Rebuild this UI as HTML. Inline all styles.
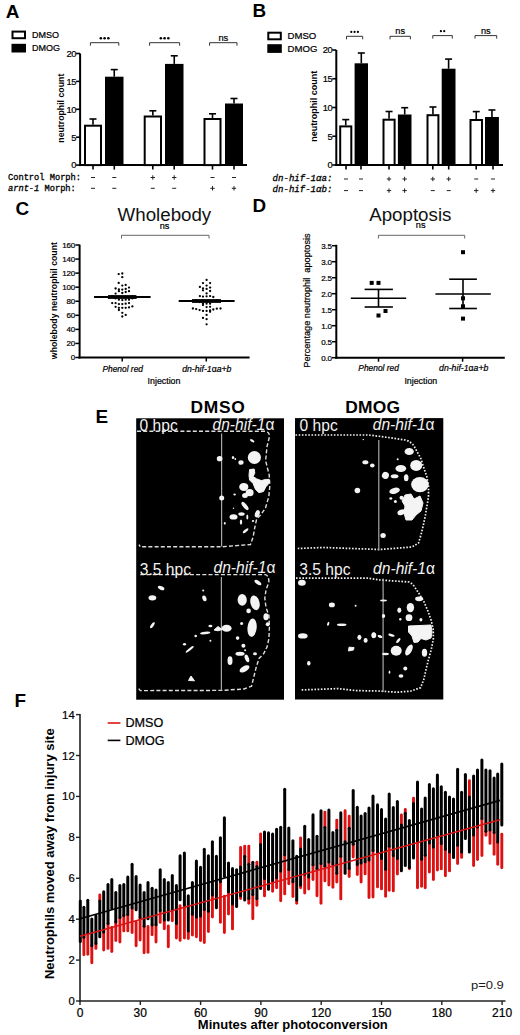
<!DOCTYPE html>
<html><head><meta charset="utf-8"><title>Figure</title>
<style>
html,body{margin:0;padding:0;background:#fff;}
body{width:520px;height:1035px;overflow:hidden;font-family:"Liberation Sans", sans-serif;}
svg{display:block;}
</style></head><body>
<svg width="520" height="1035" viewBox="0 0 520 1035">
<rect x="0" y="0" width="520" height="1035" fill="#fff"/>
<text transform="translate(5.8,17.9) scale(1.08,1)" font-size="17.5" text-anchor="start" font-weight="bold" font-style="normal" fill="#000" font-family='"Liberation Sans", sans-serif' >A</text>
<rect x="12.50" y="31.60" width="12.50" height="6.60" fill="#fff" stroke="#000" stroke-width="2"/>
<rect x="11.50" y="43.80" width="14.50" height="8.70" fill="#000"/>
<text x="32" y="38.0" font-size="9" text-anchor="start" font-weight="normal" font-style="normal" fill="#000" font-family='"Liberation Sans", sans-serif'  stroke="#000" stroke-width="0.22">DMSO</text>
<text x="32" y="51.4" font-size="9" text-anchor="start" font-weight="normal" font-style="normal" fill="#000" font-family='"Liberation Sans", sans-serif'  stroke="#000" stroke-width="0.22">DMOG</text>
<line x1="80.10" y1="53.50" x2="80.10" y2="166.10" stroke="#000" stroke-width="2" />
<line x1="76.10" y1="165.10" x2="80.10" y2="165.10" stroke="#000" stroke-width="1.6" />
<text x="76.19999999999999" y="168.4" font-size="9.3" text-anchor="end" font-weight="normal" font-style="normal" fill="#000" font-family='"Liberation Sans", sans-serif' letter-spacing="-0.3" stroke="#000" stroke-width="0.22">0</text>
<line x1="76.10" y1="137.20" x2="80.10" y2="137.20" stroke="#000" stroke-width="1.6" />
<text x="76.19999999999999" y="140.5" font-size="9.3" text-anchor="end" font-weight="normal" font-style="normal" fill="#000" font-family='"Liberation Sans", sans-serif' letter-spacing="-0.3" stroke="#000" stroke-width="0.22">5</text>
<line x1="76.10" y1="109.30" x2="80.10" y2="109.30" stroke="#000" stroke-width="1.6" />
<text x="76.19999999999999" y="112.6" font-size="9.3" text-anchor="end" font-weight="normal" font-style="normal" fill="#000" font-family='"Liberation Sans", sans-serif' letter-spacing="-0.3" stroke="#000" stroke-width="0.22">10</text>
<line x1="76.10" y1="81.40" x2="80.10" y2="81.40" stroke="#000" stroke-width="1.6" />
<text x="76.19999999999999" y="84.69999999999999" font-size="9.3" text-anchor="end" font-weight="normal" font-style="normal" fill="#000" font-family='"Liberation Sans", sans-serif' letter-spacing="-0.3" stroke="#000" stroke-width="0.22">15</text>
<line x1="76.10" y1="53.50" x2="80.10" y2="53.50" stroke="#000" stroke-width="1.6" />
<text x="76.19999999999999" y="56.8" font-size="9.3" text-anchor="end" font-weight="normal" font-style="normal" fill="#000" font-family='"Liberation Sans", sans-serif' letter-spacing="-0.3" stroke="#000" stroke-width="0.22">20</text>
<line x1="79.10" y1="165.10" x2="247.00" y2="165.10" stroke="#000" stroke-width="2" />
<line x1="93.00" y1="124.70" x2="93.00" y2="119.00" stroke="#000" stroke-width="1.6" />
<line x1="89.50" y1="119.00" x2="96.50" y2="119.00" stroke="#000" stroke-width="1.6" />
<rect x="85.00" y="125.70" width="16.00" height="39.40" fill="#fff" stroke="#000" stroke-width="2"/>
<line x1="114.25" y1="76.70" x2="114.25" y2="69.60" stroke="#000" stroke-width="1.6" />
<line x1="110.75" y1="69.60" x2="117.75" y2="69.60" stroke="#000" stroke-width="1.6" />
<rect x="105.00" y="76.70" width="18.50" height="88.40" fill="#000"/>
<line x1="152.85" y1="115.50" x2="152.85" y2="110.80" stroke="#000" stroke-width="1.6" />
<line x1="149.35" y1="110.80" x2="156.35" y2="110.80" stroke="#000" stroke-width="1.6" />
<rect x="144.70" y="116.50" width="16.30" height="48.60" fill="#fff" stroke="#000" stroke-width="2"/>
<line x1="174.25" y1="63.90" x2="174.25" y2="55.80" stroke="#000" stroke-width="1.6" />
<line x1="170.75" y1="55.80" x2="177.75" y2="55.80" stroke="#000" stroke-width="1.6" />
<rect x="165.00" y="63.90" width="18.50" height="101.20" fill="#000"/>
<line x1="212.50" y1="118.00" x2="212.50" y2="113.80" stroke="#000" stroke-width="1.6" />
<line x1="209.00" y1="113.80" x2="216.00" y2="113.80" stroke="#000" stroke-width="1.6" />
<rect x="204.50" y="119.00" width="16.00" height="46.10" fill="#fff" stroke="#000" stroke-width="2"/>
<line x1="234.00" y1="103.50" x2="234.00" y2="98.50" stroke="#000" stroke-width="1.6" />
<line x1="230.50" y1="98.50" x2="237.50" y2="98.50" stroke="#000" stroke-width="1.6" />
<rect x="225.00" y="103.50" width="18.00" height="61.60" fill="#000"/>
<path d="M90.4,45.7 V42.7 H118.8 V45.7" fill="none" stroke="#333" stroke-width="1"/>
<circle cx="100.85" cy="38.30" r="1.3" fill="#000"/>
<circle cx="104.60" cy="38.30" r="1.3" fill="#000"/>
<circle cx="108.35" cy="38.30" r="1.3" fill="#000"/>
<path d="M149.6,45.7 V42.7 H179.6 V45.7" fill="none" stroke="#333" stroke-width="1"/>
<circle cx="160.85" cy="38.30" r="1.3" fill="#000"/>
<circle cx="164.60" cy="38.30" r="1.3" fill="#000"/>
<circle cx="168.35" cy="38.30" r="1.3" fill="#000"/>
<path d="M209.6,45.7 V42.7 H237.0 V45.7" fill="none" stroke="#333" stroke-width="1"/>
<text x="223.3" y="40.8" font-size="9.3" text-anchor="middle" font-weight="normal" font-style="normal" fill="#000" font-family='"Liberation Sans", sans-serif'  stroke="#000" stroke-width="0.22">ns</text>
<line x1="93.00" y1="165.10" x2="93.00" y2="169.60" stroke="#000" stroke-width="1.6" />
<line x1="114.30" y1="165.10" x2="114.30" y2="169.60" stroke="#000" stroke-width="1.6" />
<line x1="152.80" y1="165.10" x2="152.80" y2="169.60" stroke="#000" stroke-width="1.6" />
<line x1="174.20" y1="165.10" x2="174.20" y2="169.60" stroke="#000" stroke-width="1.6" />
<line x1="212.50" y1="165.10" x2="212.50" y2="169.60" stroke="#000" stroke-width="1.6" />
<line x1="234.00" y1="165.10" x2="234.00" y2="169.60" stroke="#000" stroke-width="1.6" />
<text x="8" y="180" font-size="8.7" font-family='"Liberation Mono", monospace' fill="#000" stroke="#000" stroke-width="0.3">Control Morph:</text>
<line x1="91.00" y1="177.50" x2="95.00" y2="177.50" stroke="#222" stroke-width="1" />
<line x1="112.30" y1="177.50" x2="116.30" y2="177.50" stroke="#222" stroke-width="1" />
<line x1="150.60" y1="177.50" x2="155.00" y2="177.50" stroke="#222" stroke-width="1" />
<line x1="152.80" y1="175.30" x2="152.80" y2="179.70" stroke="#222" stroke-width="1" />
<line x1="172.00" y1="177.50" x2="176.40" y2="177.50" stroke="#222" stroke-width="1" />
<line x1="174.20" y1="175.30" x2="174.20" y2="179.70" stroke="#222" stroke-width="1" />
<line x1="210.50" y1="177.50" x2="214.50" y2="177.50" stroke="#222" stroke-width="1" />
<line x1="232.00" y1="177.50" x2="236.00" y2="177.50" stroke="#222" stroke-width="1" />
<text x="8" y="191" font-size="8.7" font-family='"Liberation Mono", monospace' fill="#000" stroke="#000" stroke-width="0.3"><tspan font-style="italic">arnt-1</tspan> Morph:</text>
<line x1="91.00" y1="188.30" x2="95.00" y2="188.30" stroke="#222" stroke-width="1" />
<line x1="112.30" y1="188.30" x2="116.30" y2="188.30" stroke="#222" stroke-width="1" />
<line x1="150.80" y1="188.30" x2="154.80" y2="188.30" stroke="#222" stroke-width="1" />
<line x1="172.20" y1="188.30" x2="176.20" y2="188.30" stroke="#222" stroke-width="1" />
<line x1="210.30" y1="188.30" x2="214.70" y2="188.30" stroke="#222" stroke-width="1" />
<line x1="212.50" y1="186.10" x2="212.50" y2="190.50" stroke="#222" stroke-width="1" />
<line x1="231.80" y1="188.30" x2="236.20" y2="188.30" stroke="#222" stroke-width="1" />
<line x1="234.00" y1="186.10" x2="234.00" y2="190.50" stroke="#222" stroke-width="1" />
<text transform="translate(64.3,108.2) rotate(-90)" font-size="8.75" text-anchor="middle" font-weight="bold" font-family='"Liberation Sans", sans-serif' fill="#000">neutrophil count</text>
<text transform="translate(252.6,17.2) scale(1.08,1)" font-size="17.5" text-anchor="start" font-weight="bold" font-style="normal" fill="#000" font-family='"Liberation Sans", sans-serif' >B</text>
<rect x="268.30" y="32.70" width="12.50" height="6.60" fill="#fff" stroke="#000" stroke-width="2"/>
<rect x="267.30" y="44.20" width="14.50" height="8.70" fill="#000"/>
<text x="287.5" y="39.1" font-size="9.6" text-anchor="start" font-weight="normal" font-style="normal" fill="#000" font-family='"Liberation Sans", sans-serif'  stroke="#000" stroke-width="0.22">DMSO</text>
<text x="287.5" y="51.800000000000004" font-size="9.6" text-anchor="start" font-weight="normal" font-style="normal" fill="#000" font-family='"Liberation Sans", sans-serif'  stroke="#000" stroke-width="0.22">DMOG</text>
<line x1="336.30" y1="50.00" x2="336.30" y2="166.00" stroke="#000" stroke-width="2" />
<line x1="332.30" y1="165.00" x2="336.30" y2="165.00" stroke="#000" stroke-width="1.6" />
<text x="332.40000000000003" y="168.3" font-size="9.3" text-anchor="end" font-weight="normal" font-style="normal" fill="#000" font-family='"Liberation Sans", sans-serif' letter-spacing="-0.3" stroke="#000" stroke-width="0.22">0</text>
<line x1="332.30" y1="136.25" x2="336.30" y2="136.25" stroke="#000" stroke-width="1.6" />
<text x="332.40000000000003" y="139.55" font-size="9.3" text-anchor="end" font-weight="normal" font-style="normal" fill="#000" font-family='"Liberation Sans", sans-serif' letter-spacing="-0.3" stroke="#000" stroke-width="0.22">5</text>
<line x1="332.30" y1="107.50" x2="336.30" y2="107.50" stroke="#000" stroke-width="1.6" />
<text x="332.40000000000003" y="110.8" font-size="9.3" text-anchor="end" font-weight="normal" font-style="normal" fill="#000" font-family='"Liberation Sans", sans-serif' letter-spacing="-0.3" stroke="#000" stroke-width="0.22">10</text>
<line x1="332.30" y1="78.75" x2="336.30" y2="78.75" stroke="#000" stroke-width="1.6" />
<text x="332.40000000000003" y="82.05" font-size="9.3" text-anchor="end" font-weight="normal" font-style="normal" fill="#000" font-family='"Liberation Sans", sans-serif' letter-spacing="-0.3" stroke="#000" stroke-width="0.22">15</text>
<line x1="332.30" y1="50.00" x2="336.30" y2="50.00" stroke="#000" stroke-width="1.6" />
<text x="332.40000000000003" y="53.3" font-size="9.3" text-anchor="end" font-weight="normal" font-style="normal" fill="#000" font-family='"Liberation Sans", sans-serif' letter-spacing="-0.3" stroke="#000" stroke-width="0.22">20</text>
<line x1="335.30" y1="165.00" x2="503.00" y2="165.00" stroke="#000" stroke-width="2" />
<line x1="345.75" y1="125.40" x2="345.75" y2="119.60" stroke="#000" stroke-width="1.6" />
<line x1="342.25" y1="119.60" x2="349.25" y2="119.60" stroke="#000" stroke-width="1.6" />
<rect x="340.20" y="126.40" width="11.10" height="38.60" fill="#fff" stroke="#000" stroke-width="2"/>
<line x1="361.30" y1="63.30" x2="361.30" y2="53.00" stroke="#000" stroke-width="1.6" />
<line x1="357.80" y1="53.00" x2="364.80" y2="53.00" stroke="#000" stroke-width="1.6" />
<rect x="354.60" y="63.30" width="13.40" height="101.70" fill="#000"/>
<line x1="389.05" y1="118.70" x2="389.05" y2="111.50" stroke="#000" stroke-width="1.6" />
<line x1="385.55" y1="111.50" x2="392.55" y2="111.50" stroke="#000" stroke-width="1.6" />
<rect x="383.50" y="119.70" width="11.10" height="45.30" fill="#fff" stroke="#000" stroke-width="2"/>
<line x1="404.70" y1="114.50" x2="404.70" y2="107.70" stroke="#000" stroke-width="1.6" />
<line x1="401.20" y1="107.70" x2="408.20" y2="107.70" stroke="#000" stroke-width="1.6" />
<rect x="397.90" y="114.50" width="13.60" height="50.50" fill="#000"/>
<line x1="432.95" y1="114.20" x2="432.95" y2="107.00" stroke="#000" stroke-width="1.6" />
<line x1="429.45" y1="107.00" x2="436.45" y2="107.00" stroke="#000" stroke-width="1.6" />
<rect x="427.50" y="115.20" width="10.90" height="49.80" fill="#fff" stroke="#000" stroke-width="2"/>
<line x1="448.60" y1="68.70" x2="448.60" y2="59.10" stroke="#000" stroke-width="1.6" />
<line x1="445.10" y1="59.10" x2="452.10" y2="59.10" stroke="#000" stroke-width="1.6" />
<rect x="441.70" y="68.70" width="13.80" height="96.30" fill="#000"/>
<line x1="476.25" y1="119.00" x2="476.25" y2="111.60" stroke="#000" stroke-width="1.6" />
<line x1="472.75" y1="111.60" x2="479.75" y2="111.60" stroke="#000" stroke-width="1.6" />
<rect x="470.50" y="120.00" width="11.50" height="45.00" fill="#fff" stroke="#000" stroke-width="2"/>
<line x1="491.95" y1="117.00" x2="491.95" y2="110.00" stroke="#000" stroke-width="1.6" />
<line x1="488.45" y1="110.00" x2="495.45" y2="110.00" stroke="#000" stroke-width="1.6" />
<rect x="485.00" y="117.00" width="13.90" height="48.00" fill="#000"/>
<path d="M346.5,39.3 V36.3 H362.7 V39.3" fill="none" stroke="#333" stroke-width="1"/>
<circle cx="351.30" cy="31.90" r="1.1" fill="#000"/>
<circle cx="354.60" cy="31.90" r="1.1" fill="#000"/>
<circle cx="357.90" cy="31.90" r="1.1" fill="#000"/>
<path d="M390.0,39.3 V36.3 H410.4 V39.3" fill="none" stroke="#333" stroke-width="1"/>
<text x="400.2" y="33.6" font-size="9.2" text-anchor="middle" font-weight="normal" font-style="normal" fill="#000" font-family='"Liberation Sans", sans-serif'  stroke="#000" stroke-width="0.22">ns</text>
<path d="M432.8,38.6 V35.6 H452.3 V38.6" fill="none" stroke="#333" stroke-width="1"/>
<circle cx="440.90" cy="31.20" r="1.1" fill="#000"/>
<circle cx="444.20" cy="31.20" r="1.1" fill="#000"/>
<path d="M475.0,38.6 V35.6 H496.7 V38.6" fill="none" stroke="#333" stroke-width="1"/>
<text x="485.85" y="33.6" font-size="9.2" text-anchor="middle" font-weight="normal" font-style="normal" fill="#000" font-family='"Liberation Sans", sans-serif'  stroke="#000" stroke-width="0.22">ns</text>
<line x1="346.00" y1="165.00" x2="346.00" y2="169.50" stroke="#000" stroke-width="1.6" />
<line x1="361.00" y1="165.00" x2="361.00" y2="169.50" stroke="#000" stroke-width="1.6" />
<line x1="389.00" y1="165.00" x2="389.00" y2="169.50" stroke="#000" stroke-width="1.6" />
<line x1="404.60" y1="165.00" x2="404.60" y2="169.50" stroke="#000" stroke-width="1.6" />
<line x1="432.80" y1="165.00" x2="432.80" y2="169.50" stroke="#000" stroke-width="1.6" />
<line x1="448.70" y1="165.00" x2="448.70" y2="169.50" stroke="#000" stroke-width="1.6" />
<line x1="476.20" y1="165.00" x2="476.20" y2="169.50" stroke="#000" stroke-width="1.6" />
<line x1="493.00" y1="165.00" x2="493.00" y2="169.50" stroke="#000" stroke-width="1.6" />
<text x="272.6" y="181.3" font-size="9.05" font-style="italic" font-family='"Liberation Mono", monospace' fill="#000" stroke="#000" stroke-width="0.3">dn-hif-1&#945;a:</text>
<line x1="344.00" y1="179.00" x2="348.00" y2="179.00" stroke="#222" stroke-width="1" />
<line x1="359.00" y1="179.00" x2="363.00" y2="179.00" stroke="#222" stroke-width="1" />
<line x1="386.80" y1="179.00" x2="391.20" y2="179.00" stroke="#222" stroke-width="1" />
<line x1="389.00" y1="176.80" x2="389.00" y2="181.20" stroke="#222" stroke-width="1" />
<line x1="402.40" y1="179.00" x2="406.80" y2="179.00" stroke="#222" stroke-width="1" />
<line x1="404.60" y1="176.80" x2="404.60" y2="181.20" stroke="#222" stroke-width="1" />
<line x1="430.60" y1="179.00" x2="435.00" y2="179.00" stroke="#222" stroke-width="1" />
<line x1="432.80" y1="176.80" x2="432.80" y2="181.20" stroke="#222" stroke-width="1" />
<line x1="446.50" y1="179.00" x2="450.90" y2="179.00" stroke="#222" stroke-width="1" />
<line x1="448.70" y1="176.80" x2="448.70" y2="181.20" stroke="#222" stroke-width="1" />
<line x1="474.20" y1="179.00" x2="478.20" y2="179.00" stroke="#222" stroke-width="1" />
<line x1="491.00" y1="179.00" x2="495.00" y2="179.00" stroke="#222" stroke-width="1" />
<text x="272.6" y="192.4" font-size="9.05" font-style="italic" font-family='"Liberation Mono", monospace' fill="#000" stroke="#000" stroke-width="0.3">dn-hif-1&#945;b:</text>
<line x1="344.00" y1="190.60" x2="348.00" y2="190.60" stroke="#222" stroke-width="1" />
<line x1="359.00" y1="190.60" x2="363.00" y2="190.60" stroke="#222" stroke-width="1" />
<line x1="386.80" y1="190.60" x2="391.20" y2="190.60" stroke="#222" stroke-width="1" />
<line x1="389.00" y1="188.40" x2="389.00" y2="192.80" stroke="#222" stroke-width="1" />
<line x1="402.40" y1="190.60" x2="406.80" y2="190.60" stroke="#222" stroke-width="1" />
<line x1="404.60" y1="188.40" x2="404.60" y2="192.80" stroke="#222" stroke-width="1" />
<line x1="430.80" y1="190.60" x2="434.80" y2="190.60" stroke="#222" stroke-width="1" />
<line x1="446.70" y1="190.60" x2="450.70" y2="190.60" stroke="#222" stroke-width="1" />
<line x1="474.00" y1="190.60" x2="478.40" y2="190.60" stroke="#222" stroke-width="1" />
<line x1="476.20" y1="188.40" x2="476.20" y2="192.80" stroke="#222" stroke-width="1" />
<line x1="490.80" y1="190.60" x2="495.20" y2="190.60" stroke="#222" stroke-width="1" />
<line x1="493.00" y1="188.40" x2="493.00" y2="192.80" stroke="#222" stroke-width="1" />
<text transform="translate(317.2,106.2) rotate(-90)" font-size="9.0" text-anchor="middle" font-weight="bold" font-family='"Liberation Sans", sans-serif' fill="#000">neutrophil count</text>
<text transform="translate(15.6,214.6) scale(1.08,1)" font-size="17.5" text-anchor="start" font-weight="bold" font-style="normal" fill="#000" font-family='"Liberation Sans", sans-serif' >C</text>
<text transform="translate(164.4,221) scale(1.04,1)" font-size="18" text-anchor="middle" font-weight="normal" font-style="normal" fill="#111" font-family='"Liberation Sans", sans-serif' >Wholebody</text>
<text x="164.6" y="229.2" font-size="9.2" text-anchor="middle" font-weight="normal" font-style="normal" fill="#000" font-family='"Liberation Sans", sans-serif'  stroke="#000" stroke-width="0.22">ns</text>
<path d="M121.5,238.5 V235.3 H209 V238.5" fill="none" stroke="#666" stroke-width="1"/>
<line x1="79.60" y1="244.60" x2="79.60" y2="358.50" stroke="#000" stroke-width="2" />
<line x1="75.30" y1="357.50" x2="79.60" y2="357.50" stroke="#000" stroke-width="1.5" />
<text x="75.0" y="360.4" font-size="8.0" text-anchor="end" font-weight="normal" font-style="normal" fill="#000" font-family='"Liberation Sans", sans-serif' letter-spacing="-0.2" stroke="#000" stroke-width="0.22">0</text>
<line x1="75.30" y1="343.44" x2="79.60" y2="343.44" stroke="#000" stroke-width="1.5" />
<text x="75.0" y="346.3375" font-size="8.0" text-anchor="end" font-weight="normal" font-style="normal" fill="#000" font-family='"Liberation Sans", sans-serif' letter-spacing="-0.2" stroke="#000" stroke-width="0.22">20</text>
<line x1="75.30" y1="329.38" x2="79.60" y2="329.38" stroke="#000" stroke-width="1.5" />
<text x="75.0" y="332.275" font-size="8.0" text-anchor="end" font-weight="normal" font-style="normal" fill="#000" font-family='"Liberation Sans", sans-serif' letter-spacing="-0.2" stroke="#000" stroke-width="0.22">40</text>
<line x1="75.30" y1="315.31" x2="79.60" y2="315.31" stroke="#000" stroke-width="1.5" />
<text x="75.0" y="318.2125" font-size="8.0" text-anchor="end" font-weight="normal" font-style="normal" fill="#000" font-family='"Liberation Sans", sans-serif' letter-spacing="-0.2" stroke="#000" stroke-width="0.22">60</text>
<line x1="75.30" y1="301.25" x2="79.60" y2="301.25" stroke="#000" stroke-width="1.5" />
<text x="75.0" y="304.15" font-size="8.0" text-anchor="end" font-weight="normal" font-style="normal" fill="#000" font-family='"Liberation Sans", sans-serif' letter-spacing="-0.2" stroke="#000" stroke-width="0.22">80</text>
<line x1="75.30" y1="287.19" x2="79.60" y2="287.19" stroke="#000" stroke-width="1.5" />
<text x="75.0" y="290.0875" font-size="8.0" text-anchor="end" font-weight="normal" font-style="normal" fill="#000" font-family='"Liberation Sans", sans-serif' letter-spacing="-0.2" stroke="#000" stroke-width="0.22">100</text>
<line x1="75.30" y1="273.12" x2="79.60" y2="273.12" stroke="#000" stroke-width="1.5" />
<text x="75.0" y="276.025" font-size="8.0" text-anchor="end" font-weight="normal" font-style="normal" fill="#000" font-family='"Liberation Sans", sans-serif' letter-spacing="-0.2" stroke="#000" stroke-width="0.22">120</text>
<line x1="75.30" y1="259.06" x2="79.60" y2="259.06" stroke="#000" stroke-width="1.5" />
<text x="75.0" y="261.9625" font-size="8.0" text-anchor="end" font-weight="normal" font-style="normal" fill="#000" font-family='"Liberation Sans", sans-serif' letter-spacing="-0.2" stroke="#000" stroke-width="0.22">140</text>
<line x1="75.30" y1="245.00" x2="79.60" y2="245.00" stroke="#000" stroke-width="1.5" />
<text x="75.0" y="247.9" font-size="8.0" text-anchor="end" font-weight="normal" font-style="normal" fill="#000" font-family='"Liberation Sans", sans-serif' letter-spacing="-0.2" stroke="#000" stroke-width="0.22">160</text>
<line x1="78.60" y1="357.50" x2="249.60" y2="357.50" stroke="#000" stroke-width="2" />
<line x1="122.20" y1="357.50" x2="122.20" y2="361.50" stroke="#000" stroke-width="1.5" />
<line x1="206.30" y1="357.50" x2="206.30" y2="361.50" stroke="#000" stroke-width="1.5" />
<text x="122.7" y="371.5" font-size="8.4" text-anchor="middle" font-weight="normal" font-style="italic" fill="#000" font-family='"Liberation Sans", sans-serif'  stroke="#000" stroke-width="0.22">Phenol red</text>
<text x="206.8" y="371.5" font-size="8.7" text-anchor="middle" font-weight="normal" font-style="italic" fill="#000" font-family='"Liberation Sans", sans-serif'  stroke="#000" stroke-width="0.22">dn-hif-1<tspan font-style="normal">&#945;</tspan>a+b</text>
<text x="164" y="383.8" font-size="8.8" text-anchor="middle" font-weight="normal" font-style="normal" fill="#000" font-family='"Liberation Sans", sans-serif'  stroke="#000" stroke-width="0.22">Injection</text>
<text transform="translate(56.8,300.6) rotate(-90)" font-size="8.75" text-anchor="middle" font-weight="bold" font-family='"Liberation Sans", sans-serif' fill="#000">wholebody neutrophil count</text>
<circle cx="118.7" cy="274.1" r="1.15" fill="#000"/>
<circle cx="122.3" cy="273.5" r="1.15" fill="#000"/>
<circle cx="122.3" cy="277.2" r="1.15" fill="#000"/>
<circle cx="118.7" cy="282.9" r="1.15" fill="#000"/>
<circle cx="122.3" cy="285.6" r="1.15" fill="#000"/>
<circle cx="125.7" cy="284.9" r="1.15" fill="#000"/>
<circle cx="115.6" cy="288.5" r="1.15" fill="#000"/>
<circle cx="118.9" cy="289.3" r="1.15" fill="#000"/>
<circle cx="122.3" cy="289.6" r="1.15" fill="#000"/>
<circle cx="125.7" cy="288.9" r="1.15" fill="#000"/>
<circle cx="129" cy="287.6" r="1.15" fill="#000"/>
<circle cx="118.9" cy="291.2" r="1.15" fill="#000"/>
<circle cx="125.7" cy="292" r="1.15" fill="#000"/>
<circle cx="129" cy="291.2" r="1.15" fill="#000"/>
<circle cx="115.6" cy="293.6" r="1.15" fill="#000"/>
<circle cx="122.3" cy="293" r="1.15" fill="#000"/>
<circle cx="115.6" cy="298.4" r="1.15" fill="#000"/>
<circle cx="118.9" cy="299.7" r="1.15" fill="#000"/>
<circle cx="122.3" cy="300.1" r="1.15" fill="#000"/>
<circle cx="125.7" cy="299.7" r="1.15" fill="#000"/>
<circle cx="129" cy="299.7" r="1.15" fill="#000"/>
<circle cx="132.4" cy="298.4" r="1.15" fill="#000"/>
<circle cx="112.2" cy="303.1" r="1.15" fill="#000"/>
<circle cx="115.6" cy="303.1" r="1.15" fill="#000"/>
<circle cx="118.9" cy="304.1" r="1.15" fill="#000"/>
<circle cx="122.3" cy="304.1" r="1.15" fill="#000"/>
<circle cx="125.7" cy="303.7" r="1.15" fill="#000"/>
<circle cx="129" cy="303.1" r="1.15" fill="#000"/>
<circle cx="115.6" cy="306.8" r="1.15" fill="#000"/>
<circle cx="118.9" cy="307.8" r="1.15" fill="#000"/>
<circle cx="122.3" cy="307.8" r="1.15" fill="#000"/>
<circle cx="125.7" cy="307.8" r="1.15" fill="#000"/>
<circle cx="129" cy="307.4" r="1.15" fill="#000"/>
<circle cx="132.4" cy="306.4" r="1.15" fill="#000"/>
<circle cx="118.9" cy="310" r="1.15" fill="#000"/>
<circle cx="122.3" cy="312.8" r="1.15" fill="#000"/>
<circle cx="125.7" cy="314.9" r="1.15" fill="#000"/>
<circle cx="122.3" cy="316.5" r="1.15" fill="#000"/>
<circle cx="112.2" cy="296.2" r="1.15" fill="#000"/>
<circle cx="132.4" cy="296.2" r="1.15" fill="#000"/>
<circle cx="108.6" cy="297.6" r="1.15" fill="#000"/>
<circle cx="136" cy="297.6" r="1.15" fill="#000"/>
<circle cx="206.6" cy="279.9" r="1.15" fill="#000"/>
<circle cx="203" cy="283.1" r="1.15" fill="#000"/>
<circle cx="210.1" cy="283.1" r="1.15" fill="#000"/>
<circle cx="206.6" cy="285.6" r="1.15" fill="#000"/>
<circle cx="199.9" cy="286.9" r="1.15" fill="#000"/>
<circle cx="203" cy="288.3" r="1.15" fill="#000"/>
<circle cx="210.1" cy="287.6" r="1.15" fill="#000"/>
<circle cx="203" cy="290.3" r="1.15" fill="#000"/>
<circle cx="206.6" cy="288.9" r="1.15" fill="#000"/>
<circle cx="210.1" cy="291" r="1.15" fill="#000"/>
<circle cx="206.6" cy="293.4" r="1.15" fill="#000"/>
<circle cx="199.9" cy="296.1" r="1.15" fill="#000"/>
<circle cx="203" cy="296.6" r="1.15" fill="#000"/>
<circle cx="206.6" cy="296.3" r="1.15" fill="#000"/>
<circle cx="210.1" cy="296.1" r="1.15" fill="#000"/>
<circle cx="213.3" cy="297" r="1.15" fill="#000"/>
<circle cx="199.6" cy="302" r="1.15" fill="#000"/>
<circle cx="203" cy="303.7" r="1.15" fill="#000"/>
<circle cx="206.6" cy="303.7" r="1.15" fill="#000"/>
<circle cx="210.1" cy="303.7" r="1.15" fill="#000"/>
<circle cx="203" cy="305.1" r="1.15" fill="#000"/>
<circle cx="206.6" cy="307.1" r="1.15" fill="#000"/>
<circle cx="210.1" cy="306.8" r="1.15" fill="#000"/>
<circle cx="192.9" cy="308.5" r="1.15" fill="#000"/>
<circle cx="196.2" cy="309.1" r="1.15" fill="#000"/>
<circle cx="199.6" cy="310.1" r="1.15" fill="#000"/>
<circle cx="203" cy="310.9" r="1.15" fill="#000"/>
<circle cx="206.6" cy="310.9" r="1.15" fill="#000"/>
<circle cx="210.1" cy="310.5" r="1.15" fill="#000"/>
<circle cx="213.3" cy="309.5" r="1.15" fill="#000"/>
<circle cx="216.8" cy="308.7" r="1.15" fill="#000"/>
<circle cx="220.5" cy="308.5" r="1.15" fill="#000"/>
<circle cx="210.1" cy="311.8" r="1.15" fill="#000"/>
<circle cx="206.6" cy="314.9" r="1.15" fill="#000"/>
<circle cx="203" cy="317.9" r="1.15" fill="#000"/>
<circle cx="206.6" cy="319.2" r="1.15" fill="#000"/>
<circle cx="206.6" cy="324.3" r="1.15" fill="#000"/>
<circle cx="196.2" cy="300.5" r="1.15" fill="#000"/>
<circle cx="217" cy="300.5" r="1.15" fill="#000"/>
<line x1="94.00" y1="297.00" x2="150.60" y2="297.00" stroke="#000" stroke-width="2" />
<line x1="108.00" y1="295.60" x2="136.40" y2="295.60" stroke="#000" stroke-width="1.0" />
<line x1="108.00" y1="298.40" x2="136.40" y2="298.40" stroke="#000" stroke-width="1.0" />
<line x1="178.70" y1="301.00" x2="234.60" y2="301.00" stroke="#000" stroke-width="2" />
<line x1="192.00" y1="299.60" x2="221.00" y2="299.60" stroke="#000" stroke-width="1.0" />
<line x1="192.00" y1="302.40" x2="221.00" y2="302.40" stroke="#000" stroke-width="1.0" />
<text transform="translate(252.4,212.2) scale(1.08,1)" font-size="17.5" text-anchor="start" font-weight="bold" font-style="normal" fill="#000" font-family='"Liberation Sans", sans-serif' >D</text>
<text transform="translate(410.3,221) scale(1.04,1)" font-size="18" text-anchor="middle" font-weight="normal" font-style="normal" fill="#111" font-family='"Liberation Sans", sans-serif' >Apoptosis</text>
<text x="420.7" y="228.4" font-size="9.2" text-anchor="middle" font-weight="normal" font-style="normal" fill="#000" font-family='"Liberation Sans", sans-serif'  stroke="#000" stroke-width="0.22">ns</text>
<path d="M378.4,238.5 V235.3 H464.7 V238.5" fill="none" stroke="#666" stroke-width="1"/>
<line x1="336.30" y1="244.80" x2="336.30" y2="358.70" stroke="#000" stroke-width="2" />
<line x1="332.00" y1="357.70" x2="336.30" y2="357.70" stroke="#000" stroke-width="1.5" />
<text x="331.7" y="360.59999999999997" font-size="8.0" text-anchor="end" font-weight="normal" font-style="normal" fill="#000" font-family='"Liberation Sans", sans-serif' letter-spacing="-0.2" stroke="#000" stroke-width="0.22">0.0</text>
<line x1="332.00" y1="341.70" x2="336.30" y2="341.70" stroke="#000" stroke-width="1.5" />
<text x="331.7" y="344.59999999999997" font-size="8.0" text-anchor="end" font-weight="normal" font-style="normal" fill="#000" font-family='"Liberation Sans", sans-serif' letter-spacing="-0.2" stroke="#000" stroke-width="0.22">0.5</text>
<line x1="332.00" y1="325.70" x2="336.30" y2="325.70" stroke="#000" stroke-width="1.5" />
<text x="331.7" y="328.59999999999997" font-size="8.0" text-anchor="end" font-weight="normal" font-style="normal" fill="#000" font-family='"Liberation Sans", sans-serif' letter-spacing="-0.2" stroke="#000" stroke-width="0.22">1.0</text>
<line x1="332.00" y1="309.70" x2="336.30" y2="309.70" stroke="#000" stroke-width="1.5" />
<text x="331.7" y="312.59999999999997" font-size="8.0" text-anchor="end" font-weight="normal" font-style="normal" fill="#000" font-family='"Liberation Sans", sans-serif' letter-spacing="-0.2" stroke="#000" stroke-width="0.22">1.5</text>
<line x1="332.00" y1="293.70" x2="336.30" y2="293.70" stroke="#000" stroke-width="1.5" />
<text x="331.7" y="296.59999999999997" font-size="8.0" text-anchor="end" font-weight="normal" font-style="normal" fill="#000" font-family='"Liberation Sans", sans-serif' letter-spacing="-0.2" stroke="#000" stroke-width="0.22">2.0</text>
<line x1="332.00" y1="277.70" x2="336.30" y2="277.70" stroke="#000" stroke-width="1.5" />
<text x="331.7" y="280.59999999999997" font-size="8.0" text-anchor="end" font-weight="normal" font-style="normal" fill="#000" font-family='"Liberation Sans", sans-serif' letter-spacing="-0.2" stroke="#000" stroke-width="0.22">2.5</text>
<line x1="332.00" y1="261.70" x2="336.30" y2="261.70" stroke="#000" stroke-width="1.5" />
<text x="331.7" y="264.59999999999997" font-size="8.0" text-anchor="end" font-weight="normal" font-style="normal" fill="#000" font-family='"Liberation Sans", sans-serif' letter-spacing="-0.2" stroke="#000" stroke-width="0.22">3.0</text>
<line x1="332.00" y1="245.70" x2="336.30" y2="245.70" stroke="#000" stroke-width="1.5" />
<text x="331.7" y="248.6" font-size="8.0" text-anchor="end" font-weight="normal" font-style="normal" fill="#000" font-family='"Liberation Sans", sans-serif' letter-spacing="-0.2" stroke="#000" stroke-width="0.22">3.5</text>
<line x1="335.30" y1="357.70" x2="504.80" y2="357.70" stroke="#000" stroke-width="2" />
<line x1="378.50" y1="357.70" x2="378.50" y2="361.70" stroke="#000" stroke-width="1.5" />
<line x1="462.60" y1="357.70" x2="462.60" y2="361.70" stroke="#000" stroke-width="1.5" />
<text x="378.6" y="370.8" font-size="8.4" text-anchor="middle" font-weight="normal" font-style="italic" fill="#000" font-family='"Liberation Sans", sans-serif'  stroke="#000" stroke-width="0.22">Phenol red</text>
<text x="463.7" y="370.8" font-size="8.7" text-anchor="middle" font-weight="normal" font-style="italic" fill="#000" font-family='"Liberation Sans", sans-serif'  stroke="#000" stroke-width="0.22">dn-hif-1<tspan font-style="normal">&#945;</tspan>a+b</text>
<text x="420.8" y="383.8" font-size="8.8" text-anchor="middle" font-weight="normal" font-style="normal" fill="#000" font-family='"Liberation Sans", sans-serif'  stroke="#000" stroke-width="0.22">Injection</text>
<text transform="translate(309.9,300.5) rotate(-90)" font-size="9.2" text-anchor="middle" font-family='"Liberation Sans", sans-serif' fill="#000" stroke="#000" stroke-width="0.2" xml:space="preserve">Percentage neutrophil  apoptosis</text>
<line x1="350.80" y1="298.30" x2="406.20" y2="298.30" stroke="#000" stroke-width="1.6" />
<line x1="364.60" y1="289.40" x2="392.90" y2="289.40" stroke="#000" stroke-width="1.6" />
<line x1="364.60" y1="307.00" x2="392.90" y2="307.00" stroke="#000" stroke-width="1.6" />
<line x1="378.50" y1="289.40" x2="378.50" y2="307.00" stroke="#000" stroke-width="1.6" />
<rect x="369.70" y="280.90" width="4.00" height="4.00" fill="#000"/>
<rect x="376.50" y="280.90" width="4.00" height="4.00" fill="#000"/>
<rect x="383.50" y="309.00" width="4.00" height="4.00" fill="#000"/>
<rect x="376.50" y="313.50" width="4.00" height="4.00" fill="#000"/>
<line x1="435.40" y1="294.00" x2="490.80" y2="294.00" stroke="#000" stroke-width="1.6" />
<line x1="449.20" y1="279.20" x2="476.90" y2="279.20" stroke="#000" stroke-width="1.6" />
<line x1="449.20" y1="308.50" x2="476.90" y2="308.50" stroke="#000" stroke-width="1.6" />
<line x1="463.00" y1="279.20" x2="463.00" y2="308.50" stroke="#000" stroke-width="1.6" />
<rect x="461.00" y="250.20" width="4.00" height="4.00" fill="#000"/>
<rect x="461.00" y="296.30" width="4.00" height="4.00" fill="#000"/>
<rect x="461.00" y="304.30" width="4.00" height="4.00" fill="#000"/>
<rect x="461.00" y="316.60" width="4.00" height="4.00" fill="#000"/>
<text transform="translate(95.6,423.2) scale(1.08,1)" font-size="17.5" text-anchor="start" font-weight="bold" font-style="normal" fill="#000" font-family='"Liberation Sans", sans-serif' >E</text>
<text x="218.1" y="413.0" font-size="17.4" text-anchor="middle" font-weight="bold" font-style="normal" fill="#000" font-family='"Liberation Sans", sans-serif' letter-spacing="0.7">DMSO</text>
<text x="372.8" y="412.8" font-size="17.4" text-anchor="middle" font-weight="bold" font-style="normal" fill="#000" font-family='"Liberation Sans", sans-serif' letter-spacing="0.2">DMOG</text>
<rect x="136.20" y="418.30" width="147.80" height="281.40" fill="#000"/>
<rect x="295.00" y="418.10" width="148.30" height="281.40" fill="#000"/>
<path d="M137,431.2 H265.5 Q269.8,432 269.4,437 L267,446.5 L265.6,460.7 L269.2,475 L269.8,486.3 L268.8,496.7 L265.4,508.3 L260.6,515 L256.7,518.8 L254.8,527.5 L253.2,536.5 L250.5,544.5 L221.4,546.8 L140.3,546.8 L139,544.6" fill="none" stroke="#ddd" stroke-width="1.4" stroke-dasharray="4 2.2"/>
<path d="M295.5,435 H369 L389,437.6 L405.4,440 Q411.5,442 414,446 L420.8,458.5 L423.8,467.7 L426.9,476.9 L428.5,486.2 L428.5,496.9 L426.9,506.2 L425.4,515.4 L423.1,526.2 L420.8,535.4 L418.5,543 L412,547 L380.4,549.5 L323.5,547.5 L297.8,548.5" fill="none" stroke="#f0f0f0" stroke-width="1.7" stroke-dasharray="1.6 1.6" stroke-linecap="butt"/>
<path d="M140.3,574.6 H265.5 Q268.9,575.5 268.9,582 L266,590 L264.8,598.2 L266,607.4 L268.9,615.5 L269.4,627.1 L268.9,638.7 L267.1,646.8 L263.6,653.8 L259,658.4 L256.1,667.7 L253.2,679.3 L251.5,686.2 L244,689 L221.4,690.4 L140.3,690.6 L138.6,688.5" fill="none" stroke="#ddd" stroke-width="1.4" stroke-dasharray="4 2.2"/>
<path d="M296,578.1 H367.7 L378,579.8 L409,582 Q412.5,583.5 414.4,586.7 L418.5,592.8 L423.8,601.5 L427.9,611 L431.2,620.4 L433.3,629.8 L433.3,639.2 L431.2,650 L428.5,659.4 L426.5,667.5 L423.8,679.6 L420.5,687.7 L410.4,691.2 L396.9,692.2 L378,691 L355.6,690.6 L338.3,688.6 L300.2,690" fill="none" stroke="#f0f0f0" stroke-width="1.7" stroke-dasharray="1.6 1.6" stroke-linecap="butt"/>
<line x1="221.60" y1="433.60" x2="221.60" y2="546.50" stroke="#a8a8a8" stroke-width="1.2" />
<line x1="378.80" y1="440.00" x2="378.80" y2="550.50" stroke="#a8a8a8" stroke-width="1.2" />
<line x1="221.40" y1="577.00" x2="221.40" y2="690.50" stroke="#a8a8a8" stroke-width="1.2" />
<line x1="383.10" y1="578.50" x2="383.10" y2="692.00" stroke="#a8a8a8" stroke-width="1.2" />
<ellipse cx="219.6" cy="458.7" rx="2.8" ry="2.6" fill="#f4f4f4"/>
<ellipse cx="221.7" cy="497.9" rx="2.5" ry="2.5" fill="#f4f4f4"/>
<ellipse cx="252.2" cy="440.8" rx="2.5" ry="1.2" transform="rotate(30 252.2 440.8)" fill="#f4f4f4"/>
<ellipse cx="254.4" cy="457.5" rx="6.6" ry="6.4" fill="#f4f4f4"/>
<ellipse cx="233.0" cy="457.5" rx="1.2" ry="1.5" fill="#f4f4f4"/>
<ellipse cx="235.3" cy="459.0" rx="0.9" ry="1.0" fill="#f4f4f4"/>
<ellipse cx="241.0" cy="462.5" rx="2.6" ry="2.3" fill="#f4f4f4"/>
<polygon points="249.6,469.6 254.2,469 254.8,473.1 253.1,476.5 256.5,478.8 261.2,480.6 265.8,479.4 269.2,479.4 269.8,482.3 265.8,486.9 263.5,491.5 258.8,492.7 255.4,489.2 253.1,483.5 249.6,480 249,475.4" fill="#f4f4f4" stroke="#f4f4f4" stroke-width="1" stroke-linejoin="round"/>
<ellipse cx="243.8" cy="486.9" rx="4.6" ry="4.0" fill="#f4f4f4"/>
<ellipse cx="249.6" cy="492.7" rx="4.0" ry="3.6" fill="#f4f4f4"/>
<ellipse cx="245.0" cy="495.5" rx="2.9" ry="2.5" fill="#f4f4f4"/>
<ellipse cx="234.6" cy="494.4" rx="1.3" ry="1.0" fill="#f4f4f4"/>
<ellipse cx="245.0" cy="506.0" rx="5.0" ry="2.0" transform="rotate(50 245.0 506.0)" fill="#f4f4f4"/>
<ellipse cx="233.5" cy="516.9" rx="4.0" ry="2.6" fill="#f4f4f4"/>
<ellipse cx="241.5" cy="514.0" rx="3.2" ry="1.8" fill="#f4f4f4"/>
<ellipse cx="247.3" cy="516.9" rx="1.0" ry="2.5" fill="#f4f4f4"/>
<ellipse cx="257.3" cy="513.8" rx="2.3" ry="3.8" transform="rotate(20 257.3 513.8)" fill="#f4f4f4"/>
<ellipse cx="241.0" cy="522.1" rx="1.2" ry="2.6" fill="#f4f4f4"/>
<ellipse cx="245.6" cy="530.8" rx="3.5" ry="1.3" transform="rotate(-40 245.6 530.8)" fill="#f4f4f4"/>
<ellipse cx="224.8" cy="523.3" rx="0.9" ry="1.4" fill="#f4f4f4"/>
<ellipse cx="233.5" cy="508.3" rx="0.7" ry="0.7" fill="#f4f4f4"/>
<ellipse cx="253.0" cy="521.0" rx="1.2" ry="1.0" fill="#f4f4f4"/>
<ellipse cx="161.1" cy="588.0" rx="3.5" ry="1.8" transform="rotate(25 161.1 588.0)" fill="#f4f4f4"/>
<ellipse cx="152.4" cy="597.8" rx="3.9" ry="2.6" fill="#f4f4f4"/>
<ellipse cx="203.2" cy="590.6" rx="1.0" ry="1.0" fill="#f4f4f4"/>
<ellipse cx="204.4" cy="598.4" rx="2.0" ry="3.0" transform="rotate(-20 204.4 598.4)" fill="#f4f4f4"/>
<ellipse cx="152.4" cy="625.2" rx="3.5" ry="1.4" transform="rotate(-55 152.4 625.2)" fill="#f4f4f4"/>
<ellipse cx="205.2" cy="633.0" rx="5.2" ry="1.3" transform="rotate(-5 205.2 633.0)" fill="#f4f4f4"/>
<ellipse cx="210.4" cy="626.0" rx="2.0" ry="1.3" fill="#f4f4f4"/>
<polygon points="214,630 218,626.5 222,629.5 218,630.8" fill="#f4f4f4" stroke="#f4f4f4" stroke-width="1" stroke-linejoin="round"/>
<ellipse cx="195.7" cy="636.0" rx="1.3" ry="1.3" fill="#f4f4f4"/>
<ellipse cx="210.4" cy="640.8" rx="1.0" ry="1.0" fill="#f4f4f4"/>
<ellipse cx="184.5" cy="644.2" rx="1.6" ry="1.3" fill="#f4f4f4"/>
<ellipse cx="189.7" cy="649.4" rx="5.0" ry="1.2" transform="rotate(-38 189.7 649.4)" fill="#f4f4f4"/>
<polygon points="188.5,680.5 191,676 194.5,680.8" fill="#f4f4f4" stroke="#f4f4f4" stroke-width="1" stroke-linejoin="round"/>
<ellipse cx="257.9" cy="582.5" rx="4.0" ry="1.8" transform="rotate(35 257.9 582.5)" fill="#f4f4f4"/>
<ellipse cx="242.2" cy="599.9" rx="4.6" ry="5.8" fill="#f4f4f4"/>
<ellipse cx="255.0" cy="602.8" rx="4.5" ry="7.5" transform="rotate(-15 255.0 602.8)" fill="#f4f4f4"/>
<ellipse cx="248.6" cy="610.9" rx="2.3" ry="2.3" fill="#f4f4f4"/>
<ellipse cx="266.0" cy="616.7" rx="2.6" ry="3.5" fill="#f4f4f4"/>
<ellipse cx="267.7" cy="624.2" rx="2.0" ry="2.0" fill="#f4f4f4"/>
<ellipse cx="252.1" cy="627.7" rx="4.6" ry="9.2" transform="rotate(5 252.1 627.7)" fill="#f4f4f4"/>
<ellipse cx="241.6" cy="623.6" rx="1.5" ry="1.5" fill="#f4f4f4"/>
<ellipse cx="226.6" cy="628.3" rx="5.0" ry="3.5" fill="#f4f4f4"/>
<ellipse cx="237.6" cy="638.1" rx="1.8" ry="1.8" fill="#f4f4f4"/>
<ellipse cx="243.4" cy="645.7" rx="2.0" ry="2.0" fill="#f4f4f4"/>
<ellipse cx="240.0" cy="653.8" rx="4.6" ry="2.0" fill="#f4f4f4"/>
<ellipse cx="246.9" cy="658.4" rx="2.0" ry="4.0" transform="rotate(-20 246.9 658.4)" fill="#f4f4f4"/>
<ellipse cx="255.0" cy="653.8" rx="2.0" ry="1.5" fill="#f4f4f4"/>
<ellipse cx="230.0" cy="660.7" rx="2.5" ry="4.4" fill="#f4f4f4"/>
<ellipse cx="244.5" cy="668.8" rx="5.5" ry="2.8" transform="rotate(-30 244.5 668.8)" fill="#f4f4f4"/>
<ellipse cx="245.1" cy="650.3" rx="1.0" ry="1.0" fill="#f4f4f4"/>
<ellipse cx="409.2" cy="451.5" rx="4.6" ry="3.6" fill="#f4f4f4"/>
<ellipse cx="365.4" cy="462.3" rx="3.0" ry="2.0" fill="#f4f4f4"/>
<ellipse cx="372.3" cy="465.4" rx="2.3" ry="2.0" fill="#f4f4f4"/>
<ellipse cx="397.7" cy="459.2" rx="1.0" ry="1.0" fill="#f4f4f4"/>
<ellipse cx="400.8" cy="468.5" rx="5.4" ry="3.5" fill="#f4f4f4"/>
<ellipse cx="416.2" cy="465.4" rx="6.0" ry="5.5" fill="#f4f4f4"/>
<ellipse cx="385.4" cy="475.4" rx="3.5" ry="3.5" transform="rotate(30 385.4 475.4)" fill="#f4f4f4"/>
<ellipse cx="394.6" cy="476.2" rx="3.8" ry="2.0" fill="#f4f4f4"/>
<ellipse cx="406.2" cy="477.7" rx="2.3" ry="3.5" fill="#f4f4f4"/>
<ellipse cx="419.9" cy="484.6" rx="8.8" ry="7.7" fill="#f4f4f4"/>
<ellipse cx="394.6" cy="490.8" rx="5.4" ry="3.0" transform="rotate(-15 394.6 490.8)" fill="#f4f4f4"/>
<ellipse cx="357.4" cy="490.5" rx="2.8" ry="2.8" fill="#f4f4f4"/>
<ellipse cx="401.5" cy="497.7" rx="2.0" ry="2.0" fill="#f4f4f4"/>
<ellipse cx="390.8" cy="498.5" rx="1.5" ry="1.2" fill="#f4f4f4"/>
<ellipse cx="395.4" cy="501.5" rx="1.5" ry="1.5" fill="#f4f4f4"/>
<polygon points="405,495 411,494 414,499 420,496 423,503 421,511 416,515 412,520 406,520 404,513 405,506 402,501" fill="#f4f4f4" stroke="#f4f4f4" stroke-width="1" stroke-linejoin="round"/>
<ellipse cx="401.5" cy="512.3" rx="4.2" ry="2.7" transform="rotate(-20 401.5 512.3)" fill="#f4f4f4"/>
<ellipse cx="383.1" cy="535.4" rx="2.7" ry="2.5" fill="#f4f4f4"/>
<ellipse cx="363.3" cy="439.6" rx="0.8" ry="0.6" fill="#f4f4f4"/>
<ellipse cx="301.9" cy="582.8" rx="3.9" ry="3.0" fill="#f4f4f4"/>
<ellipse cx="331.9" cy="604.9" rx="3.0" ry="2.4" fill="#f4f4f4"/>
<ellipse cx="355.6" cy="605.8" rx="1.0" ry="1.0" fill="#f4f4f4"/>
<ellipse cx="328.2" cy="623.8" rx="1.0" ry="2.0" transform="rotate(20 328.2 623.8)" fill="#f4f4f4"/>
<ellipse cx="341.7" cy="624.7" rx="4.8" ry="1.3" fill="#f4f4f4"/>
<ellipse cx="302.8" cy="635.9" rx="4.8" ry="2.6" fill="#f4f4f4"/>
<ellipse cx="359.4" cy="637.3" rx="2.0" ry="2.6" fill="#f4f4f4"/>
<ellipse cx="365.6" cy="640.4" rx="2.0" ry="2.4" fill="#f4f4f4"/>
<ellipse cx="373.7" cy="635.2" rx="2.0" ry="3.0" fill="#f4f4f4"/>
<ellipse cx="379.8" cy="636.4" rx="2.0" ry="1.0" transform="rotate(30 379.8 636.4)" fill="#f4f4f4"/>
<polygon points="348.5,651 349,647.2 354,647.5 353.5,650" fill="#f4f4f4" stroke="#f4f4f4" stroke-width="1" stroke-linejoin="round"/>
<ellipse cx="308.8" cy="663.3" rx="1.7" ry="2.2" fill="#f4f4f4"/>
<ellipse cx="419.1" cy="598.8" rx="4.0" ry="2.4" fill="#f4f4f4"/>
<ellipse cx="410.4" cy="607.6" rx="3.7" ry="4.7" fill="#f4f4f4"/>
<ellipse cx="399.3" cy="610.3" rx="2.0" ry="2.7" fill="#f4f4f4"/>
<ellipse cx="409.0" cy="617.7" rx="3.4" ry="3.4" fill="#f4f4f4"/>
<ellipse cx="420.9" cy="619.7" rx="1.5" ry="1.8" fill="#f4f4f4"/>
<ellipse cx="400.3" cy="619.3" rx="1.2" ry="1.2" fill="#f4f4f4"/>
<ellipse cx="383.5" cy="600.5" rx="3.4" ry="0.9" fill="#f4f4f4"/>
<ellipse cx="383.5" cy="616.1" rx="1.7" ry="2.0" fill="#f4f4f4"/>
<polygon points="408.5,626 420,625.5 431,625 432,632 431,638 426,640 421,638.5 418,642 414,642.5 412,636 408.5,632" fill="#f4f4f4" stroke="#f4f4f4" stroke-width="1" stroke-linejoin="round"/>
<ellipse cx="373.8" cy="635.2" rx="2.4" ry="2.7" fill="#f4f4f4"/>
<ellipse cx="380.0" cy="636.5" rx="2.5" ry="1.2" transform="rotate(20 380.0 636.5)" fill="#f4f4f4"/>
<ellipse cx="391.5" cy="635.2" rx="3.3" ry="1.3" transform="rotate(15 391.5 635.2)" fill="#f4f4f4"/>
<ellipse cx="398.3" cy="640.6" rx="3.0" ry="1.3" transform="rotate(-50 398.3 640.6)" fill="#f4f4f4"/>
<ellipse cx="396.2" cy="650.7" rx="5.5" ry="5.0" fill="#f4f4f4"/>
<ellipse cx="409.0" cy="650.0" rx="2.8" ry="6.0" transform="rotate(30 409.0 650.0)" fill="#f4f4f4"/>
<ellipse cx="424.5" cy="652.7" rx="2.7" ry="4.0" fill="#f4f4f4"/>
<ellipse cx="385.5" cy="654.0" rx="3.4" ry="1.2" fill="#f4f4f4"/>
<ellipse cx="405.3" cy="668.4" rx="2.0" ry="2.0" fill="#f4f4f4"/>
<ellipse cx="401.0" cy="676.0" rx="2.4" ry="1.7" fill="#f4f4f4"/>
<ellipse cx="389.5" cy="672.2" rx="0.8" ry="1.6" fill="#f4f4f4"/>
<text x="139.6" y="431.4" font-size="15.6" text-anchor="start" font-weight="normal" font-style="normal" fill="#f2f2f2" font-family='"Liberation Sans", sans-serif' >0 hpc</text>
<text x="274.4" y="430.4" font-size="15.6" text-anchor="end" font-weight="normal" font-style="italic" fill="#f2f2f2" font-family='"Liberation Sans", sans-serif' >dn-hif-1<tspan font-style="normal">&#945;</tspan></text>
<text x="299.6" y="430.6" font-size="15.6" text-anchor="start" font-weight="normal" font-style="normal" fill="#f2f2f2" font-family='"Liberation Sans", sans-serif' >0 hpc</text>
<text x="434.6" y="430.2" font-size="15.6" text-anchor="end" font-weight="normal" font-style="italic" fill="#f2f2f2" font-family='"Liberation Sans", sans-serif' >dn-hif-1<tspan font-style="normal">&#945;</tspan></text>
<text x="139.8" y="574.7" font-size="15.6" text-anchor="start" font-weight="normal" font-style="normal" fill="#f2f2f2" font-family='"Liberation Sans", sans-serif' >3.5 hpc</text>
<text x="275.4" y="573.2" font-size="15.6" text-anchor="end" font-weight="normal" font-style="italic" fill="#f2f2f2" font-family='"Liberation Sans", sans-serif' >dn-hif-1<tspan font-style="normal">&#945;</tspan></text>
<text x="299.3" y="574.6" font-size="15.6" text-anchor="start" font-weight="normal" font-style="normal" fill="#f2f2f2" font-family='"Liberation Sans", sans-serif' >3.5 hpc</text>
<text x="435.0" y="574.2" font-size="15.6" text-anchor="end" font-weight="normal" font-style="italic" fill="#f2f2f2" font-family='"Liberation Sans", sans-serif' >dn-hif-1<tspan font-style="normal">&#945;</tspan></text>
<text transform="translate(14.6,706.6) scale(1.08,1)" font-size="17.5" text-anchor="start" font-weight="bold" font-style="normal" fill="#000" font-family='"Liberation Sans", sans-serif' >F</text>
<line x1="80.00" y1="714.00" x2="80.00" y2="1002.00" stroke="#222" stroke-width="1.6" />
<line x1="76.00" y1="1001.00" x2="80.00" y2="1001.00" stroke="#222" stroke-width="1.4" />
<text x="74.7" y="1005.0" font-size="11.3" text-anchor="end" font-weight="normal" font-style="normal" fill="#000" font-family='"Liberation Sans", sans-serif'  stroke="#000" stroke-width="0.22">0</text>
<line x1="76.00" y1="960.09" x2="80.00" y2="960.09" stroke="#222" stroke-width="1.4" />
<text x="74.7" y="964.0857142857143" font-size="11.3" text-anchor="end" font-weight="normal" font-style="normal" fill="#000" font-family='"Liberation Sans", sans-serif'  stroke="#000" stroke-width="0.22">2</text>
<line x1="76.00" y1="919.17" x2="80.00" y2="919.17" stroke="#222" stroke-width="1.4" />
<text x="74.7" y="923.1714285714286" font-size="11.3" text-anchor="end" font-weight="normal" font-style="normal" fill="#000" font-family='"Liberation Sans", sans-serif'  stroke="#000" stroke-width="0.22">4</text>
<line x1="76.00" y1="878.26" x2="80.00" y2="878.26" stroke="#222" stroke-width="1.4" />
<text x="74.7" y="882.2571428571429" font-size="11.3" text-anchor="end" font-weight="normal" font-style="normal" fill="#000" font-family='"Liberation Sans", sans-serif'  stroke="#000" stroke-width="0.22">6</text>
<line x1="76.00" y1="837.34" x2="80.00" y2="837.34" stroke="#222" stroke-width="1.4" />
<text x="74.7" y="841.3428571428572" font-size="11.3" text-anchor="end" font-weight="normal" font-style="normal" fill="#000" font-family='"Liberation Sans", sans-serif'  stroke="#000" stroke-width="0.22">8</text>
<line x1="76.00" y1="796.43" x2="80.00" y2="796.43" stroke="#222" stroke-width="1.4" />
<text x="74.7" y="800.4285714285714" font-size="11.3" text-anchor="end" font-weight="normal" font-style="normal" fill="#000" font-family='"Liberation Sans", sans-serif'  stroke="#000" stroke-width="0.22">10</text>
<line x1="76.00" y1="755.51" x2="80.00" y2="755.51" stroke="#222" stroke-width="1.4" />
<text x="74.7" y="759.5142857142857" font-size="11.3" text-anchor="end" font-weight="normal" font-style="normal" fill="#000" font-family='"Liberation Sans", sans-serif'  stroke="#000" stroke-width="0.22">12</text>
<line x1="76.00" y1="714.60" x2="80.00" y2="714.60" stroke="#222" stroke-width="1.4" />
<text x="74.7" y="718.6" font-size="11.3" text-anchor="end" font-weight="normal" font-style="normal" fill="#000" font-family='"Liberation Sans", sans-serif'  stroke="#000" stroke-width="0.22">14</text>
<line x1="79.00" y1="1001.00" x2="505.50" y2="1001.00" stroke="#222" stroke-width="1.6" />
<line x1="80.00" y1="1001.00" x2="80.00" y2="1005.00" stroke="#222" stroke-width="1.4" />
<text x="80.0" y="1016.5" font-size="12.0" text-anchor="middle" font-weight="normal" font-style="normal" fill="#000" font-family='"Liberation Sans", sans-serif'  stroke="#000" stroke-width="0.22">0</text>
<line x1="140.30" y1="1001.00" x2="140.30" y2="1005.00" stroke="#222" stroke-width="1.4" />
<text x="140.3" y="1016.5" font-size="12.0" text-anchor="middle" font-weight="normal" font-style="normal" fill="#000" font-family='"Liberation Sans", sans-serif'  stroke="#000" stroke-width="0.22">30</text>
<line x1="200.60" y1="1001.00" x2="200.60" y2="1005.00" stroke="#222" stroke-width="1.4" />
<text x="200.6" y="1016.5" font-size="12.0" text-anchor="middle" font-weight="normal" font-style="normal" fill="#000" font-family='"Liberation Sans", sans-serif'  stroke="#000" stroke-width="0.22">60</text>
<line x1="260.90" y1="1001.00" x2="260.90" y2="1005.00" stroke="#222" stroke-width="1.4" />
<text x="260.9" y="1016.5" font-size="12.0" text-anchor="middle" font-weight="normal" font-style="normal" fill="#000" font-family='"Liberation Sans", sans-serif'  stroke="#000" stroke-width="0.22">90</text>
<line x1="321.20" y1="1001.00" x2="321.20" y2="1005.00" stroke="#222" stroke-width="1.4" />
<text x="321.2" y="1016.5" font-size="12.0" text-anchor="middle" font-weight="normal" font-style="normal" fill="#000" font-family='"Liberation Sans", sans-serif'  stroke="#000" stroke-width="0.22">120</text>
<line x1="381.50" y1="1001.00" x2="381.50" y2="1005.00" stroke="#222" stroke-width="1.4" />
<text x="381.49999999999994" y="1016.5" font-size="12.0" text-anchor="middle" font-weight="normal" font-style="normal" fill="#000" font-family='"Liberation Sans", sans-serif'  stroke="#000" stroke-width="0.22">150</text>
<line x1="441.80" y1="1001.00" x2="441.80" y2="1005.00" stroke="#222" stroke-width="1.4" />
<text x="441.79999999999995" y="1016.5" font-size="12.0" text-anchor="middle" font-weight="normal" font-style="normal" fill="#000" font-family='"Liberation Sans", sans-serif'  stroke="#000" stroke-width="0.22">180</text>
<line x1="502.10" y1="1001.00" x2="502.10" y2="1005.00" stroke="#222" stroke-width="1.4" />
<text x="502.09999999999997" y="1016.5" font-size="12.0" text-anchor="middle" font-weight="normal" font-style="normal" fill="#000" font-family='"Liberation Sans", sans-serif'  stroke="#000" stroke-width="0.22">210</text>
<text x="292.8" y="1029.3" font-size="13.0" text-anchor="middle" font-weight="bold" font-style="normal" fill="#000" font-family='"Liberation Sans", sans-serif' >Minutes after photoconversion</text>
<text transform="translate(54.4,853.7) rotate(-90)" font-size="13.0" text-anchor="middle" font-weight="bold" font-family='"Liberation Sans", sans-serif' fill="#000">Neutrophils moved away from injury site</text>
<text transform="translate(503.8,989.2) scale(1.12,1)" font-size="11.6" text-anchor="end" font-weight="normal" font-style="normal" fill="#1a1a1a" font-family='"Liberation Sans", sans-serif' >p=0.9</text>
<line x1="107.70" y1="723.00" x2="120.40" y2="723.00" stroke="#dc1212" stroke-width="1.6" />
<line x1="107.70" y1="740.40" x2="120.40" y2="740.40" stroke="#000" stroke-width="1.6" />
<text x="125.4" y="727.4" font-size="12.6" text-anchor="start" font-weight="normal" font-style="normal" fill="#000" font-family='"Liberation Sans", sans-serif'  stroke="#000" stroke-width="0.22">DMSO</text>
<text x="125.4" y="744.7" font-size="12.6" text-anchor="start" font-weight="normal" font-style="normal" fill="#000" font-family='"Liberation Sans", sans-serif'  stroke="#000" stroke-width="0.22">DMOG</text>
<line x1="83.9" y1="937.2" x2="83.9" y2="954.8" stroke="#dc1212" stroke-width="2.9" stroke-linecap="round"/>
<line x1="87.8" y1="933.0" x2="87.8" y2="954.2" stroke="#dc1212" stroke-width="2.9" stroke-linecap="round"/>
<line x1="91.8" y1="945.7" x2="91.8" y2="962.8" stroke="#dc1212" stroke-width="2.9" stroke-linecap="round"/>
<line x1="95.9" y1="943.5" x2="95.9" y2="948.4" stroke="#dc1212" stroke-width="2.9" stroke-linecap="round"/>
<line x1="99.8" y1="895.0" x2="99.8" y2="900.9" stroke="#dc1212" stroke-width="2.9" stroke-linecap="round"/>
<line x1="103.7" y1="931.9" x2="103.7" y2="950.0" stroke="#dc1212" stroke-width="2.9" stroke-linecap="round"/>
<line x1="108" y1="923.4" x2="108" y2="948.4" stroke="#dc1212" stroke-width="2.9" stroke-linecap="round"/>
<line x1="111.8" y1="927.5" x2="111.8" y2="951.5" stroke="#dc1212" stroke-width="2.9" stroke-linecap="round"/>
<line x1="115.8" y1="921.9" x2="115.8" y2="940.5" stroke="#dc1212" stroke-width="2.9" stroke-linecap="round"/>
<line x1="119.9" y1="917.5" x2="119.9" y2="942.1" stroke="#dc1212" stroke-width="2.9" stroke-linecap="round"/>
<line x1="123.8" y1="915.5" x2="123.8" y2="930.9" stroke="#dc1212" stroke-width="2.9" stroke-linecap="round"/>
<line x1="127.8" y1="914.5" x2="127.8" y2="930.9" stroke="#dc1212" stroke-width="2.9" stroke-linecap="round"/>
<line x1="132.1" y1="908.1" x2="132.1" y2="932.5" stroke="#dc1212" stroke-width="2.9" stroke-linecap="round"/>
<line x1="136.1" y1="922.2" x2="136.1" y2="945.8" stroke="#dc1212" stroke-width="2.9" stroke-linecap="round"/>
<line x1="140.1" y1="917.5" x2="140.1" y2="940.0" stroke="#dc1212" stroke-width="2.9" stroke-linecap="round"/>
<line x1="144.1" y1="926.2" x2="144.1" y2="952.8" stroke="#dc1212" stroke-width="2.9" stroke-linecap="round"/>
<line x1="148" y1="926.5" x2="148" y2="952.2" stroke="#dc1212" stroke-width="2.9" stroke-linecap="round"/>
<line x1="152.1" y1="924.9" x2="152.1" y2="934.8" stroke="#dc1212" stroke-width="2.9" stroke-linecap="round"/>
<line x1="156" y1="924.7" x2="156" y2="942.1" stroke="#dc1212" stroke-width="2.9" stroke-linecap="round"/>
<line x1="160.2" y1="910.8" x2="160.2" y2="922.4" stroke="#dc1212" stroke-width="2.9" stroke-linecap="round"/>
<line x1="164.3" y1="920.1" x2="164.3" y2="928.8" stroke="#dc1212" stroke-width="2.9" stroke-linecap="round"/>
<line x1="168.3" y1="926.0" x2="168.3" y2="946.8" stroke="#dc1212" stroke-width="2.9" stroke-linecap="round"/>
<line x1="172.3" y1="909.7" x2="172.3" y2="920.8" stroke="#dc1212" stroke-width="2.9" stroke-linecap="round"/>
<line x1="176.4" y1="923.5" x2="176.4" y2="938.1" stroke="#dc1212" stroke-width="2.9" stroke-linecap="round"/>
<line x1="180.1" y1="905.7" x2="180.1" y2="940.4" stroke="#dc1212" stroke-width="2.9" stroke-linecap="round"/>
<line x1="184.4" y1="905.0" x2="184.4" y2="938.1" stroke="#dc1212" stroke-width="2.9" stroke-linecap="round"/>
<line x1="188.3" y1="931.0" x2="188.3" y2="938.5" stroke="#dc1212" stroke-width="2.9" stroke-linecap="round"/>
<line x1="192.4" y1="914.2" x2="192.4" y2="935.0" stroke="#dc1212" stroke-width="2.9" stroke-linecap="round"/>
<line x1="196.4" y1="917.1" x2="196.4" y2="936.8" stroke="#dc1212" stroke-width="2.9" stroke-linecap="round"/>
<line x1="200.5" y1="915.9" x2="200.5" y2="940.5" stroke="#dc1212" stroke-width="2.9" stroke-linecap="round"/>
<line x1="204.3" y1="909.5" x2="204.3" y2="942.5" stroke="#dc1212" stroke-width="2.9" stroke-linecap="round"/>
<line x1="208.4" y1="911.2" x2="208.4" y2="931.5" stroke="#dc1212" stroke-width="2.9" stroke-linecap="round"/>
<line x1="212.4" y1="895.0" x2="212.4" y2="917.1" stroke="#dc1212" stroke-width="2.9" stroke-linecap="round"/>
<line x1="220.4" y1="881.7" x2="220.4" y2="922.3" stroke="#dc1212" stroke-width="2.9" stroke-linecap="round"/>
<line x1="224.4" y1="896.2" x2="224.4" y2="932.5" stroke="#dc1212" stroke-width="2.9" stroke-linecap="round"/>
<line x1="228.5" y1="891.7" x2="228.5" y2="914.0" stroke="#dc1212" stroke-width="2.9" stroke-linecap="round"/>
<line x1="232.5" y1="903.9" x2="232.5" y2="928.9" stroke="#dc1212" stroke-width="2.9" stroke-linecap="round"/>
<line x1="240.6" y1="847.5" x2="240.6" y2="867.0" stroke="#dc1212" stroke-width="2.9" stroke-linecap="round"/>
<line x1="240.6" y1="895.8" x2="240.6" y2="898.5" stroke="#dc1212" stroke-width="2.9" stroke-linecap="round"/>
<line x1="244.7" y1="846.1" x2="244.7" y2="856.2" stroke="#dc1212" stroke-width="2.9" stroke-linecap="round"/>
<line x1="248.8" y1="846.1" x2="248.8" y2="864.3" stroke="#dc1212" stroke-width="2.9" stroke-linecap="round"/>
<line x1="248.8" y1="898.5" x2="248.8" y2="903.2" stroke="#dc1212" stroke-width="2.9" stroke-linecap="round"/>
<line x1="252.8" y1="894.5" x2="252.8" y2="918.8" stroke="#dc1212" stroke-width="2.9" stroke-linecap="round"/>
<line x1="256.9" y1="862.2" x2="256.9" y2="866.4" stroke="#dc1212" stroke-width="2.9" stroke-linecap="round"/>
<line x1="256.9" y1="898.5" x2="256.9" y2="905.3" stroke="#dc1212" stroke-width="2.9" stroke-linecap="round"/>
<line x1="260.6" y1="834.0" x2="260.6" y2="844.4" stroke="#dc1212" stroke-width="2.9" stroke-linecap="round"/>
<line x1="264.5" y1="878.4" x2="264.5" y2="895.9" stroke="#dc1212" stroke-width="2.9" stroke-linecap="round"/>
<line x1="272.6" y1="880.4" x2="272.6" y2="891.2" stroke="#dc1212" stroke-width="2.9" stroke-linecap="round"/>
<line x1="276.6" y1="877.7" x2="276.6" y2="887.8" stroke="#dc1212" stroke-width="2.9" stroke-linecap="round"/>
<line x1="280.7" y1="870.9" x2="280.7" y2="900.8" stroke="#dc1212" stroke-width="2.9" stroke-linecap="round"/>
<line x1="284.7" y1="854.7" x2="284.7" y2="893.9" stroke="#dc1212" stroke-width="2.9" stroke-linecap="round"/>
<line x1="288.8" y1="869.6" x2="288.8" y2="883.8" stroke="#dc1212" stroke-width="2.9" stroke-linecap="round"/>
<line x1="292.9" y1="881.7" x2="292.9" y2="896.6" stroke="#dc1212" stroke-width="2.9" stroke-linecap="round"/>
<line x1="296.7" y1="900.0" x2="296.7" y2="903.3" stroke="#dc1212" stroke-width="2.9" stroke-linecap="round"/>
<line x1="300.6" y1="837.9" x2="300.6" y2="849.0" stroke="#dc1212" stroke-width="2.9" stroke-linecap="round"/>
<line x1="300.6" y1="885.0" x2="300.6" y2="887.8" stroke="#dc1212" stroke-width="2.9" stroke-linecap="round"/>
<line x1="304.7" y1="874.2" x2="304.7" y2="893.1" stroke="#dc1212" stroke-width="2.9" stroke-linecap="round"/>
<line x1="308.7" y1="876.9" x2="308.7" y2="889.0" stroke="#dc1212" stroke-width="2.9" stroke-linecap="round"/>
<line x1="313" y1="864.7" x2="313" y2="879.6" stroke="#dc1212" stroke-width="2.9" stroke-linecap="round"/>
<line x1="317" y1="868.8" x2="317" y2="895.8" stroke="#dc1212" stroke-width="2.9" stroke-linecap="round"/>
<line x1="321" y1="863.4" x2="321" y2="903.2" stroke="#dc1212" stroke-width="2.9" stroke-linecap="round"/>
<line x1="324.9" y1="812.1" x2="324.9" y2="827.4" stroke="#dc1212" stroke-width="2.9" stroke-linecap="round"/>
<line x1="324.9" y1="866.1" x2="324.9" y2="880.9" stroke="#dc1212" stroke-width="2.9" stroke-linecap="round"/>
<line x1="328.9" y1="862.0" x2="328.9" y2="885.0" stroke="#dc1212" stroke-width="2.9" stroke-linecap="round"/>
<line x1="332.9" y1="863.9" x2="332.9" y2="887.2" stroke="#dc1212" stroke-width="2.9" stroke-linecap="round"/>
<line x1="336.8" y1="820.1" x2="336.8" y2="830.2" stroke="#dc1212" stroke-width="2.9" stroke-linecap="round"/>
<line x1="336.8" y1="873.2" x2="336.8" y2="882.0" stroke="#dc1212" stroke-width="2.9" stroke-linecap="round"/>
<line x1="340.8" y1="856.2" x2="340.8" y2="898.9" stroke="#dc1212" stroke-width="2.9" stroke-linecap="round"/>
<line x1="345.1" y1="810.7" x2="345.1" y2="841.8" stroke="#dc1212" stroke-width="2.9" stroke-linecap="round"/>
<line x1="349.2" y1="816.1" x2="349.2" y2="828.3" stroke="#dc1212" stroke-width="2.9" stroke-linecap="round"/>
<line x1="349.2" y1="868.5" x2="349.2" y2="876.6" stroke="#dc1212" stroke-width="2.9" stroke-linecap="round"/>
<line x1="353.2" y1="844.2" x2="353.2" y2="857.1" stroke="#dc1212" stroke-width="2.9" stroke-linecap="round"/>
<line x1="357.3" y1="864.5" x2="357.3" y2="874.6" stroke="#dc1212" stroke-width="2.9" stroke-linecap="round"/>
<line x1="361.1" y1="863.1" x2="361.1" y2="882.0" stroke="#dc1212" stroke-width="2.9" stroke-linecap="round"/>
<line x1="365.1" y1="861.7" x2="365.1" y2="873.9" stroke="#dc1212" stroke-width="2.9" stroke-linecap="round"/>
<line x1="369" y1="860.1" x2="369" y2="897.5" stroke="#dc1212" stroke-width="2.9" stroke-linecap="round"/>
<line x1="373" y1="850.4" x2="373" y2="897.0" stroke="#dc1212" stroke-width="2.9" stroke-linecap="round"/>
<line x1="377.5" y1="851.7" x2="377.5" y2="886.9" stroke="#dc1212" stroke-width="2.9" stroke-linecap="round"/>
<line x1="381.5" y1="858.5" x2="381.5" y2="888.9" stroke="#dc1212" stroke-width="2.9" stroke-linecap="round"/>
<line x1="385.6" y1="869.2" x2="385.6" y2="896.3" stroke="#dc1212" stroke-width="2.9" stroke-linecap="round"/>
<line x1="389.2" y1="846.2" x2="389.2" y2="890.3" stroke="#dc1212" stroke-width="2.9" stroke-linecap="round"/>
<line x1="393.3" y1="855.8" x2="393.3" y2="890.9" stroke="#dc1212" stroke-width="2.9" stroke-linecap="round"/>
<line x1="397.4" y1="858.5" x2="397.4" y2="874.0" stroke="#dc1212" stroke-width="2.9" stroke-linecap="round"/>
<line x1="401.4" y1="814.9" x2="401.4" y2="825.0" stroke="#dc1212" stroke-width="2.9" stroke-linecap="round"/>
<line x1="405.3" y1="809.5" x2="405.3" y2="813.2" stroke="#dc1212" stroke-width="2.9" stroke-linecap="round"/>
<line x1="409.4" y1="867.4" x2="409.4" y2="868.8" stroke="#dc1212" stroke-width="2.9" stroke-linecap="round"/>
<line x1="413.5" y1="798.1" x2="413.5" y2="803.5" stroke="#dc1212" stroke-width="2.9" stroke-linecap="round"/>
<line x1="417.5" y1="840.4" x2="417.5" y2="887.8" stroke="#dc1212" stroke-width="2.9" stroke-linecap="round"/>
<line x1="421.6" y1="859.2" x2="421.6" y2="886.3" stroke="#dc1212" stroke-width="2.9" stroke-linecap="round"/>
<line x1="425.2" y1="855.2" x2="425.2" y2="887.8" stroke="#dc1212" stroke-width="2.9" stroke-linecap="round"/>
<line x1="429.4" y1="843.1" x2="429.4" y2="872.1" stroke="#dc1212" stroke-width="2.9" stroke-linecap="round"/>
<line x1="433.4" y1="847.1" x2="433.4" y2="879.5" stroke="#dc1212" stroke-width="2.9" stroke-linecap="round"/>
<line x1="437.4" y1="835.0" x2="437.4" y2="870.1" stroke="#dc1212" stroke-width="2.9" stroke-linecap="round"/>
<line x1="441.3" y1="843.5" x2="441.3" y2="868.9" stroke="#dc1212" stroke-width="2.9" stroke-linecap="round"/>
<line x1="445.4" y1="849.2" x2="445.4" y2="875.8" stroke="#dc1212" stroke-width="2.9" stroke-linecap="round"/>
<line x1="449.5" y1="852.0" x2="449.5" y2="870.9" stroke="#dc1212" stroke-width="2.9" stroke-linecap="round"/>
<line x1="457.6" y1="845.2" x2="457.6" y2="863.5" stroke="#dc1212" stroke-width="2.9" stroke-linecap="round"/>
<line x1="461.6" y1="852.0" x2="461.6" y2="857.4" stroke="#dc1212" stroke-width="2.9" stroke-linecap="round"/>
<line x1="469.4" y1="780.7" x2="469.4" y2="796.9" stroke="#dc1212" stroke-width="2.9" stroke-linecap="round"/>
<line x1="473.6" y1="834.9" x2="473.6" y2="865.5" stroke="#dc1212" stroke-width="2.9" stroke-linecap="round"/>
<line x1="477.5" y1="827.1" x2="477.5" y2="859.5" stroke="#dc1212" stroke-width="2.9" stroke-linecap="round"/>
<line x1="481.9" y1="818.4" x2="481.9" y2="855.5" stroke="#dc1212" stroke-width="2.9" stroke-linecap="round"/>
<line x1="485.9" y1="831.2" x2="485.9" y2="835.3" stroke="#dc1212" stroke-width="2.9" stroke-linecap="round"/>
<line x1="490" y1="829.9" x2="490" y2="843.4" stroke="#dc1212" stroke-width="2.9" stroke-linecap="round"/>
<line x1="494.1" y1="832.6" x2="494.1" y2="854.2" stroke="#dc1212" stroke-width="2.9" stroke-linecap="round"/>
<line x1="497.7" y1="842.0" x2="497.7" y2="864.3" stroke="#dc1212" stroke-width="2.9" stroke-linecap="round"/>
<line x1="501.8" y1="834.2" x2="501.8" y2="867.8" stroke="#dc1212" stroke-width="2.9" stroke-linecap="round"/>
<line x1="80.3" y1="900.9" x2="80.3" y2="941.5" stroke="#000" stroke-width="3.0" stroke-linecap="round"/>
<line x1="83.9" y1="907.2" x2="83.9" y2="937.2" stroke="#000" stroke-width="3.0" stroke-linecap="round"/>
<line x1="87.8" y1="900.3" x2="87.8" y2="933.0" stroke="#000" stroke-width="3.0" stroke-linecap="round"/>
<line x1="91.8" y1="918.9" x2="91.8" y2="945.7" stroke="#000" stroke-width="3.0" stroke-linecap="round"/>
<line x1="95.9" y1="915.8" x2="95.9" y2="943.5" stroke="#000" stroke-width="3.0" stroke-linecap="round"/>
<line x1="99.8" y1="900.9" x2="99.8" y2="936.7" stroke="#000" stroke-width="3.0" stroke-linecap="round"/>
<line x1="103.7" y1="891.8" x2="103.7" y2="931.9" stroke="#000" stroke-width="3.0" stroke-linecap="round"/>
<line x1="108" y1="884.4" x2="108" y2="923.4" stroke="#000" stroke-width="3.0" stroke-linecap="round"/>
<line x1="111.8" y1="879.5" x2="111.8" y2="908.5" stroke="#000" stroke-width="3.0" stroke-linecap="round"/>
<line x1="115.8" y1="892.5" x2="115.8" y2="921.9" stroke="#000" stroke-width="3.0" stroke-linecap="round"/>
<line x1="119.9" y1="885.5" x2="119.9" y2="917.5" stroke="#000" stroke-width="3.0" stroke-linecap="round"/>
<line x1="123.8" y1="884.5" x2="123.8" y2="915.5" stroke="#000" stroke-width="3.0" stroke-linecap="round"/>
<line x1="127.8" y1="877.0" x2="127.8" y2="914.5" stroke="#000" stroke-width="3.0" stroke-linecap="round"/>
<line x1="132.1" y1="864.3" x2="132.1" y2="908.1" stroke="#000" stroke-width="3.0" stroke-linecap="round"/>
<line x1="136.1" y1="876.5" x2="136.1" y2="909.7" stroke="#000" stroke-width="3.0" stroke-linecap="round"/>
<line x1="140.1" y1="885.0" x2="140.1" y2="917.5" stroke="#000" stroke-width="3.0" stroke-linecap="round"/>
<line x1="144.1" y1="892.5" x2="144.1" y2="926.2" stroke="#000" stroke-width="3.0" stroke-linecap="round"/>
<line x1="148" y1="882.4" x2="148" y2="918.7" stroke="#000" stroke-width="3.0" stroke-linecap="round"/>
<line x1="152.1" y1="888.2" x2="152.1" y2="924.9" stroke="#000" stroke-width="3.0" stroke-linecap="round"/>
<line x1="156" y1="890.1" x2="156" y2="924.7" stroke="#000" stroke-width="3.0" stroke-linecap="round"/>
<line x1="160.2" y1="869.8" x2="160.2" y2="910.8" stroke="#000" stroke-width="3.0" stroke-linecap="round"/>
<line x1="164.3" y1="879.6" x2="164.3" y2="920.1" stroke="#000" stroke-width="3.0" stroke-linecap="round"/>
<line x1="168.3" y1="882.5" x2="168.3" y2="920.1" stroke="#000" stroke-width="3.0" stroke-linecap="round"/>
<line x1="172.3" y1="875.6" x2="172.3" y2="909.7" stroke="#000" stroke-width="3.0" stroke-linecap="round"/>
<line x1="176.4" y1="885.4" x2="176.4" y2="923.5" stroke="#000" stroke-width="3.0" stroke-linecap="round"/>
<line x1="180.1" y1="855.8" x2="180.1" y2="899.8" stroke="#000" stroke-width="3.0" stroke-linecap="round"/>
<line x1="184.4" y1="852.9" x2="184.4" y2="905.0" stroke="#000" stroke-width="3.0" stroke-linecap="round"/>
<line x1="188.3" y1="895.7" x2="188.3" y2="931.0" stroke="#000" stroke-width="3.0" stroke-linecap="round"/>
<line x1="192.4" y1="882.4" x2="192.4" y2="914.2" stroke="#000" stroke-width="3.0" stroke-linecap="round"/>
<line x1="196.4" y1="860.9" x2="196.4" y2="917.1" stroke="#000" stroke-width="3.0" stroke-linecap="round"/>
<line x1="200.5" y1="867.3" x2="200.5" y2="915.9" stroke="#000" stroke-width="3.0" stroke-linecap="round"/>
<line x1="204.3" y1="849.3" x2="204.3" y2="909.5" stroke="#000" stroke-width="3.0" stroke-linecap="round"/>
<line x1="208.4" y1="855.7" x2="208.4" y2="911.3" stroke="#000" stroke-width="3.0" stroke-linecap="round"/>
<line x1="212.4" y1="841.8" x2="212.4" y2="895.0" stroke="#000" stroke-width="3.0" stroke-linecap="round"/>
<line x1="216.4" y1="856.3" x2="216.4" y2="907.8" stroke="#000" stroke-width="3.0" stroke-linecap="round"/>
<line x1="220.4" y1="837.7" x2="220.4" y2="881.7" stroke="#000" stroke-width="3.0" stroke-linecap="round"/>
<line x1="224.4" y1="817.7" x2="224.4" y2="876.2" stroke="#000" stroke-width="3.0" stroke-linecap="round"/>
<line x1="228.5" y1="863.0" x2="228.5" y2="891.7" stroke="#000" stroke-width="3.0" stroke-linecap="round"/>
<line x1="232.5" y1="868.4" x2="232.5" y2="903.9" stroke="#000" stroke-width="3.0" stroke-linecap="round"/>
<line x1="236.6" y1="869.7" x2="236.6" y2="906.6" stroke="#000" stroke-width="3.0" stroke-linecap="round"/>
<line x1="240.6" y1="867.0" x2="240.6" y2="895.8" stroke="#000" stroke-width="3.0" stroke-linecap="round"/>
<line x1="244.7" y1="856.2" x2="244.7" y2="899.9" stroke="#000" stroke-width="3.0" stroke-linecap="round"/>
<line x1="248.8" y1="864.3" x2="248.8" y2="898.5" stroke="#000" stroke-width="3.0" stroke-linecap="round"/>
<line x1="252.8" y1="862.3" x2="252.8" y2="894.5" stroke="#000" stroke-width="3.0" stroke-linecap="round"/>
<line x1="256.9" y1="866.4" x2="256.9" y2="898.5" stroke="#000" stroke-width="3.0" stroke-linecap="round"/>
<line x1="260.6" y1="844.4" x2="260.6" y2="888.5" stroke="#000" stroke-width="3.0" stroke-linecap="round"/>
<line x1="264.5" y1="832.0" x2="264.5" y2="878.4" stroke="#000" stroke-width="3.0" stroke-linecap="round"/>
<line x1="268.5" y1="832.7" x2="268.5" y2="889.2" stroke="#000" stroke-width="3.0" stroke-linecap="round"/>
<line x1="272.6" y1="834.1" x2="272.6" y2="880.4" stroke="#000" stroke-width="3.0" stroke-linecap="round"/>
<line x1="276.6" y1="829.3" x2="276.6" y2="877.7" stroke="#000" stroke-width="3.0" stroke-linecap="round"/>
<line x1="280.7" y1="827.3" x2="280.7" y2="870.9" stroke="#000" stroke-width="3.0" stroke-linecap="round"/>
<line x1="284.7" y1="789.2" x2="284.7" y2="854.7" stroke="#000" stroke-width="3.0" stroke-linecap="round"/>
<line x1="288.8" y1="827.9" x2="288.8" y2="869.6" stroke="#000" stroke-width="3.0" stroke-linecap="round"/>
<line x1="292.9" y1="840.7" x2="292.9" y2="881.7" stroke="#000" stroke-width="3.0" stroke-linecap="round"/>
<line x1="296.7" y1="856.2" x2="296.7" y2="900.0" stroke="#000" stroke-width="3.0" stroke-linecap="round"/>
<line x1="300.6" y1="849.0" x2="300.6" y2="885.0" stroke="#000" stroke-width="3.0" stroke-linecap="round"/>
<line x1="304.7" y1="826.3" x2="304.7" y2="874.2" stroke="#000" stroke-width="3.0" stroke-linecap="round"/>
<line x1="308.7" y1="839.5" x2="308.7" y2="876.9" stroke="#000" stroke-width="3.0" stroke-linecap="round"/>
<line x1="313" y1="814.8" x2="313" y2="864.7" stroke="#000" stroke-width="3.0" stroke-linecap="round"/>
<line x1="317" y1="836.3" x2="317" y2="868.8" stroke="#000" stroke-width="3.0" stroke-linecap="round"/>
<line x1="321" y1="810.8" x2="321" y2="863.4" stroke="#000" stroke-width="3.0" stroke-linecap="round"/>
<line x1="324.9" y1="827.4" x2="324.9" y2="866.1" stroke="#000" stroke-width="3.0" stroke-linecap="round"/>
<line x1="328.9" y1="809.9" x2="328.9" y2="862.0" stroke="#000" stroke-width="3.0" stroke-linecap="round"/>
<line x1="332.9" y1="832.4" x2="332.9" y2="863.9" stroke="#000" stroke-width="3.0" stroke-linecap="round"/>
<line x1="336.8" y1="830.2" x2="336.8" y2="873.2" stroke="#000" stroke-width="3.0" stroke-linecap="round"/>
<line x1="340.8" y1="812.7" x2="340.8" y2="856.3" stroke="#000" stroke-width="3.0" stroke-linecap="round"/>
<line x1="345.1" y1="841.8" x2="345.1" y2="873.2" stroke="#000" stroke-width="3.0" stroke-linecap="round"/>
<line x1="349.2" y1="828.3" x2="349.2" y2="868.5" stroke="#000" stroke-width="3.0" stroke-linecap="round"/>
<line x1="353.2" y1="790.4" x2="353.2" y2="844.2" stroke="#000" stroke-width="3.0" stroke-linecap="round"/>
<line x1="357.3" y1="807.3" x2="357.3" y2="864.5" stroke="#000" stroke-width="3.0" stroke-linecap="round"/>
<line x1="361.1" y1="816.1" x2="361.1" y2="863.1" stroke="#000" stroke-width="3.0" stroke-linecap="round"/>
<line x1="365.1" y1="813.4" x2="365.1" y2="861.7" stroke="#000" stroke-width="3.0" stroke-linecap="round"/>
<line x1="369" y1="808.1" x2="369" y2="860.1" stroke="#000" stroke-width="3.0" stroke-linecap="round"/>
<line x1="373" y1="796.0" x2="373" y2="850.4" stroke="#000" stroke-width="3.0" stroke-linecap="round"/>
<line x1="377.5" y1="804.7" x2="377.5" y2="851.7" stroke="#000" stroke-width="3.0" stroke-linecap="round"/>
<line x1="381.5" y1="809.5" x2="381.5" y2="858.5" stroke="#000" stroke-width="3.0" stroke-linecap="round"/>
<line x1="385.6" y1="818.9" x2="385.6" y2="869.3" stroke="#000" stroke-width="3.0" stroke-linecap="round"/>
<line x1="389.2" y1="793.9" x2="389.2" y2="846.3" stroke="#000" stroke-width="3.0" stroke-linecap="round"/>
<line x1="393.3" y1="807.5" x2="393.3" y2="855.8" stroke="#000" stroke-width="3.0" stroke-linecap="round"/>
<line x1="397.4" y1="801.4" x2="397.4" y2="858.5" stroke="#000" stroke-width="3.0" stroke-linecap="round"/>
<line x1="401.4" y1="825.0" x2="401.4" y2="870.7" stroke="#000" stroke-width="3.0" stroke-linecap="round"/>
<line x1="405.3" y1="813.2" x2="405.3" y2="865.6" stroke="#000" stroke-width="3.0" stroke-linecap="round"/>
<line x1="409.4" y1="820.4" x2="409.4" y2="867.4" stroke="#000" stroke-width="3.0" stroke-linecap="round"/>
<line x1="413.5" y1="803.5" x2="413.5" y2="858.0" stroke="#000" stroke-width="3.0" stroke-linecap="round"/>
<line x1="417.5" y1="781.9" x2="417.5" y2="840.4" stroke="#000" stroke-width="3.0" stroke-linecap="round"/>
<line x1="421.6" y1="808.9" x2="421.6" y2="859.3" stroke="#000" stroke-width="3.0" stroke-linecap="round"/>
<line x1="425.2" y1="798.1" x2="425.2" y2="855.3" stroke="#000" stroke-width="3.0" stroke-linecap="round"/>
<line x1="429.4" y1="784.6" x2="429.4" y2="843.1" stroke="#000" stroke-width="3.0" stroke-linecap="round"/>
<line x1="433.4" y1="788.7" x2="433.4" y2="847.1" stroke="#000" stroke-width="3.0" stroke-linecap="round"/>
<line x1="437.4" y1="775.1" x2="437.4" y2="835.0" stroke="#000" stroke-width="3.0" stroke-linecap="round"/>
<line x1="441.3" y1="786.7" x2="441.3" y2="843.5" stroke="#000" stroke-width="3.0" stroke-linecap="round"/>
<line x1="445.4" y1="792.2" x2="445.4" y2="849.3" stroke="#000" stroke-width="3.0" stroke-linecap="round"/>
<line x1="449.5" y1="796.9" x2="449.5" y2="852.0" stroke="#000" stroke-width="3.0" stroke-linecap="round"/>
<line x1="453.5" y1="798.9" x2="453.5" y2="857.4" stroke="#000" stroke-width="3.0" stroke-linecap="round"/>
<line x1="457.6" y1="769.2" x2="457.6" y2="845.3" stroke="#000" stroke-width="3.0" stroke-linecap="round"/>
<line x1="461.6" y1="792.2" x2="461.6" y2="852.0" stroke="#000" stroke-width="3.0" stroke-linecap="round"/>
<line x1="465.4" y1="774.6" x2="465.4" y2="838.5" stroke="#000" stroke-width="3.0" stroke-linecap="round"/>
<line x1="469.4" y1="796.9" x2="469.4" y2="852.0" stroke="#000" stroke-width="3.0" stroke-linecap="round"/>
<line x1="473.6" y1="776.0" x2="473.6" y2="834.9" stroke="#000" stroke-width="3.0" stroke-linecap="round"/>
<line x1="477.5" y1="770.0" x2="477.5" y2="827.1" stroke="#000" stroke-width="3.0" stroke-linecap="round"/>
<line x1="481.9" y1="759.9" x2="481.9" y2="818.4" stroke="#000" stroke-width="3.0" stroke-linecap="round"/>
<line x1="485.9" y1="770.0" x2="485.9" y2="831.2" stroke="#000" stroke-width="3.0" stroke-linecap="round"/>
<line x1="490" y1="770.7" x2="490" y2="829.9" stroke="#000" stroke-width="3.0" stroke-linecap="round"/>
<line x1="494.1" y1="778.1" x2="494.1" y2="832.6" stroke="#000" stroke-width="3.0" stroke-linecap="round"/>
<line x1="497.7" y1="774.1" x2="497.7" y2="842.0" stroke="#000" stroke-width="3.0" stroke-linecap="round"/>
<line x1="501.8" y1="763.9" x2="501.8" y2="825.1" stroke="#000" stroke-width="3.0" stroke-linecap="round"/>
<line x1="80.00" y1="918.75" x2="500.00" y2="800.40" stroke="#000" stroke-width="1.7" />
<line x1="80.00" y1="936.20" x2="500.00" y2="819.80" stroke="#dc1212" stroke-width="1.5" />
</svg>
</body></html>
